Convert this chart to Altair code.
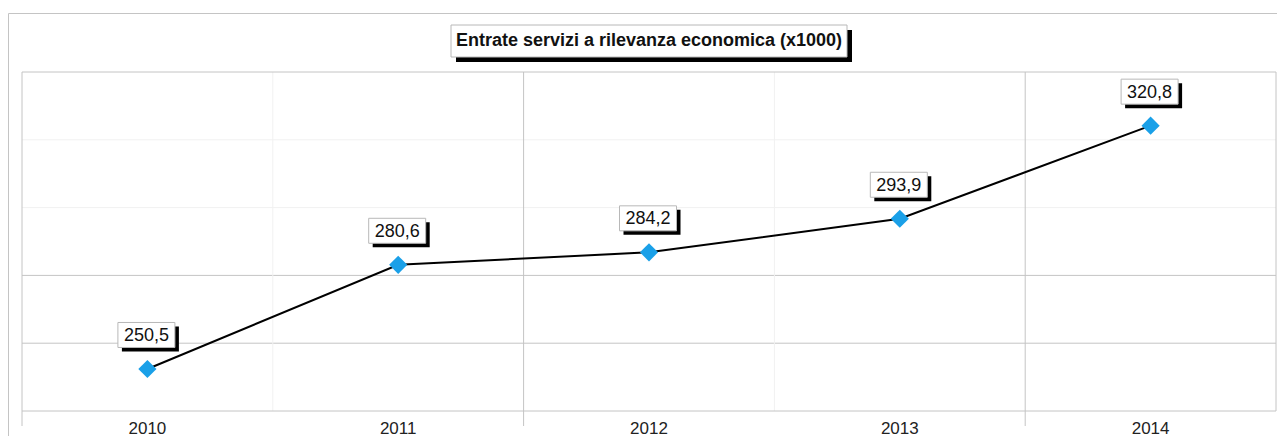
import altair as alt
import pandas as pd

YEARS = ["2010", "2011", "2012", "2013", "2014"]
VALUES = [250.5, 280.6, 284.2, 293.9, 320.8]
LABELS = ["250,5", "280,6", "284,2", "293,9", "320,8"]
TITLE = "Entrate servizi a rilevanza economica (x1000)"
Y_DOMAIN = [238.36, 336.3]
N_GRID = 5

W, H = 1254, 339
FONT = "Liberation Sans"
GRID = "#c4c4c4"
FAINT = "#f1f1f1"

df = pd.DataFrame({"year": YEARS, "value": VALUES, "label": LABELS})
step = (Y_DOMAIN[1] - Y_DOMAIN[0]) / N_GRID
grid_vals = [Y_DOMAIN[0] + i * step for i in range(1, N_GRID)]
hgrid_strong = pd.DataFrame({"v": grid_vals[:2]})
hgrid_faint = pd.DataFrame({"v": grid_vals[2:]})
vgrid_strong = pd.DataFrame({"year": YEARS[0::2]})
vgrid_faint = pd.DataFrame({"year": YEARS[1::2]})
one = pd.DataFrame({"t": [TITLE]})

xs = alt.Scale(domain=YEARS, paddingInner=0, paddingOuter=0)
ys = alt.Scale(domain=Y_DOMAIN, zero=False, nice=False)

xaxis = alt.Axis(title=None, ticks=False, domain=False, grid=False, labelAngle=0,
                 labelPadding=9, labelBaseline="top", labelFontSize=17,
                 labelColor="#222222", labelFont=FONT)

def vrules(data, color, y2):
    return alt.Chart(data).mark_rule(color=color, strokeWidth=1).encode(
        x=alt.X("year:O", scale=xs, bandPosition=0, axis=xaxis),
        y=alt.value(0), y2=alt.value(y2))

def hrules(data, color):
    return alt.Chart(data).mark_rule(color=color, strokeWidth=1).encode(
        y=alt.Y("v:Q", scale=ys, axis=None),
        x=alt.value(0), x2=alt.value(W))

def frule(**enc):
    return alt.Chart(one).mark_rule(color=GRID, strokeWidth=1).encode(**enc)

layers = [
    hrules(hgrid_faint, FAINT),
    hrules(hgrid_strong, GRID),
    vrules(vgrid_faint, FAINT, H),
    vrules(vgrid_strong, GRID, H + 15),
    frule(x=alt.value(W), y=alt.value(0), y2=alt.value(H)),
    frule(x=alt.value(0), x2=alt.value(W), y=alt.value(0)),
    frule(x=alt.value(0), x2=alt.value(W), y=alt.value(H)),
    frule(x=alt.value(-13.5), x2=alt.value(W + 10), y=alt.value(-58.5)),
    frule(x=alt.value(-13.5), y=alt.value(-58.5), y2=alt.value(H + 40)),
]

base = alt.Chart(df).encode(
    x=alt.X("year:O", scale=xs, axis=xaxis),
    y=alt.Y("value:Q", scale=ys, axis=None),
)

line = base.mark_line(color="black", strokeWidth=2)
pts = base.mark_point(shape="diamond", filled=True, size=330, color="#1aa0e8", opacity=1)

box_path = "M-1,-0.4386H1V0.4386H-1Z"
shadow = base.mark_point(shape=box_path, size=3249, filled=True, fill="black",
                         stroke="black", strokeWidth=0, opacity=1, xOffset=3, yOffset=-30)
box = base.mark_point(shape=box_path, size=3249, filled=True, fill="white",
                      stroke="#b8b8b8", strokeWidth=1, opacity=1, fillOpacity=1,
                      strokeOpacity=1, xOffset=-1, yOffset=-34)
txt = base.mark_text(font=FONT, fontSize=18, color="#111111", baseline="middle",
                     align="center", xOffset=-1, yOffset=-33).encode(text="label:N")

tshadow = alt.Chart(one).mark_rect(color="black").encode(
    x=alt.value(434), x2=alt.value(830), y=alt.value(-42), y2=alt.value(-10))
tbox = alt.Chart(one).mark_rect(fill="white", stroke="#b8b8b8", strokeWidth=1).encode(
    x=alt.value(429), x2=alt.value(825), y=alt.value(-47), y2=alt.value(-15))
ttxt = alt.Chart(one).mark_text(font=FONT, fontSize=18, fontWeight="bold", color="#111111",
                                baseline="middle", align="center").encode(
    x=alt.value(627), y=alt.value(-31), text="t:N")

chart = alt.layer(*layers, line, pts, shadow, box, txt, tshadow, tbox, ttxt).properties(
    width=W, height=H,
    autosize=alt.AutoSizeParams(type="none"),
    padding={"left": 14, "top": 64, "right": 1, "bottom": 25},
    background="white",
).configure_view(stroke=None)

chart.save("out.html", embed_options={"renderer": "svg", "actions": False})
